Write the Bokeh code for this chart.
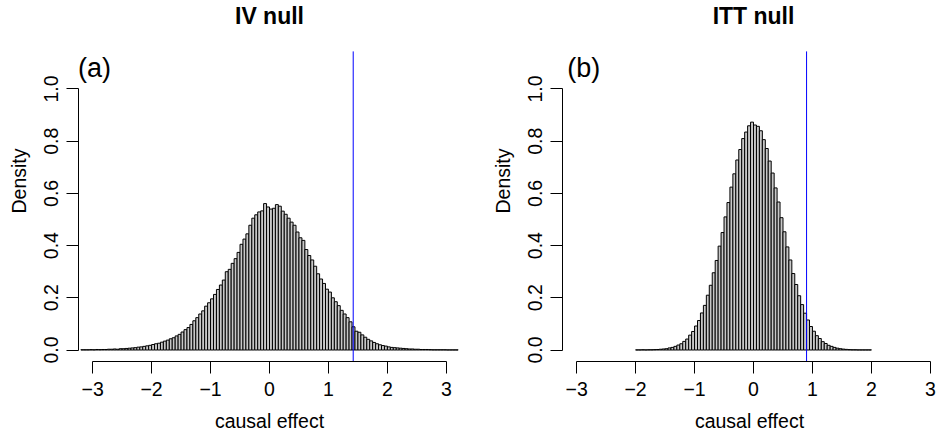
from bokeh.plotting import figure
from bokeh.layouts import row
from bokeh.models import FixedTicker, PrintfTickFormatter, CustomJSTickFormatter
from bokeh.core.properties import value
from bokeh.embed import file_html
from bokeh.resources import INLINE

FONT = "Liberation Sans"

bin_width = 0.05

# IV null histogram (density per 0.05-wide bin, first bin starts at -3.2)
iv_start = -3.2
iv_density = [
    0.001, 0.001, 0.001, 0.0015, 0.001, 0.002, 0.0015, 0.002, 0.002, 0.003,
    0.003, 0.004, 0.003, 0.005, 0.005, 0.006, 0.007, 0.008, 0.009, 0.011,
    0.012, 0.014, 0.016, 0.018, 0.021, 0.024, 0.026, 0.030, 0.034, 0.038,
    0.043, 0.047, 0.054, 0.060, 0.069, 0.078, 0.086, 0.098, 0.112, 0.124,
    0.138, 0.150, 0.168, 0.181, 0.196, 0.213, 0.232, 0.249, 0.268, 0.300,
    0.309, 0.332, 0.350, 0.374, 0.405, 0.425, 0.445, 0.478, 0.505, 0.518,
    0.529, 0.533, 0.561, 0.548,
    0.540, 0.543, 0.557, 0.551, 0.532, 0.520, 0.505, 0.490, 0.478, 0.452,
    0.430, 0.420, 0.385, 0.362, 0.345, 0.321, 0.292, 0.272, 0.255, 0.233,
    0.222, 0.200, 0.185, 0.170, 0.152, 0.138, 0.124, 0.108, 0.089, 0.072,
    0.068, 0.058, 0.049, 0.041, 0.035, 0.029, 0.024, 0.020, 0.017, 0.015,
    0.012, 0.010, 0.009, 0.008, 0.007, 0.006, 0.005, 0.004, 0.004, 0.003,
    0.003, 0.002, 0.002, 0.002, 0.0015, 0.001, 0.001, 0.001, 0.001, 0.001,
    0.0005, 0.0005, 0.0005, 0.0005,
]

# ITT null histogram (first bin starts at -2.0)
itt_start = -2.0
itt_density = [
    0.0005, 0.0005, 0.001, 0.0005, 0.001, 0.001, 0.0015, 0.002, 0.003, 0.004,
    0.005, 0.008, 0.010, 0.014, 0.019, 0.024, 0.033, 0.042, 0.057, 0.071,
    0.092, 0.113, 0.142, 0.171, 0.210, 0.248, 0.296, 0.343, 0.398, 0.450,
    0.510, 0.565, 0.624, 0.675, 0.728, 0.768, 0.810, 0.835, 0.859, 0.873,
    0.862, 0.857, 0.840, 0.806, 0.772, 0.724, 0.678, 0.621, 0.567, 0.507,
    0.453, 0.395, 0.345, 0.293, 0.251, 0.208, 0.174, 0.141, 0.115, 0.090,
    0.072, 0.055, 0.044, 0.032, 0.025, 0.018, 0.014, 0.010, 0.007, 0.005,
    0.0035, 0.0025, 0.0015, 0.001, 0.001, 0.0005, 0.0005, 0.0005, 0.0005, 0.0005,
]

iv_observed = 1.42
itt_observed = 0.90

titles = ["IV null", "ITT null"]
panel_tags = ["(a)", "(b)"]
x_ticks = [-3, -2, -1, 0, 1, 2, 3]
y_ticks = [0.0, 0.2, 0.4, 0.6, 0.8, 1.0]
x_label = "causal effect"
y_label = "Density"

# plot-region limits (R usr for ylim = c(0, 1.1))
region_bottom = -0.044
region_top = 1.144
canvas_top = 1.339
title_y = 1.281
tag_y = 1.081


def make_panel(density, start, observed, title, tag, tag_x, width, bl, br, x_end):
    left = [start + bin_width * i for i in range(len(density))]
    right = [v + bin_width for v in left]
    p = figure(width=width, height=434, x_range=(-3.24, x_end),
               y_range=(region_bottom, canvas_top),
               output_backend="svg", toolbar_location=None,
               min_border_left=bl, min_border_right=br, min_border_top=0, min_border_bottom=72)
    p.quad(left=left, right=right, bottom=0, top=density,
           fill_color="#C8C8C8", line_color="black", line_width=1)
    p.segment(x0=[observed], y0=[region_bottom], x1=[observed], y1=[region_top],
              line_color="#0000FF", line_width=1)

    p.text(x=[0], y=[title_y], text=[title], text_font=value(FONT), text_font_size="23px",
           text_font_style="bold", text_color="black", text_align="center",
           text_baseline="middle")
    p.text(x=[tag_x], y=[tag_y], text=[tag], text_font=value(FONT), text_font_size="27px",
           text_color="black", text_align="center", text_baseline="middle")

    p.grid.visible = False
    p.outline_line_color = None
    p.background_fill_color = "white"
    p.border_fill_color = "white"

    for ax in (p.xaxis[0], p.yaxis[0]):
        ax.major_tick_out = 12
        ax.major_tick_in = 0
        ax.minor_tick_line_color = None
        ax.axis_line_color = "black"
        ax.major_tick_line_color = "black"
        ax.major_label_text_font = FONT
        ax.major_label_text_font_size = "19.5px"
        ax.major_label_text_color = "black"
        ax.axis_label_text_font = FONT
        ax.axis_label_text_font_size = "19.5px"
        ax.axis_label_text_font_style = "normal"
        ax.axis_label_text_color = "black"
        ax.major_label_standoff = 8

    p.xaxis.ticker = FixedTicker(ticks=x_ticks)
    p.xaxis.bounds = (-3, 3)
    p.xaxis.formatter = CustomJSTickFormatter(
        code="return (tick < 0 ? '\\u2212' : '') + Math.abs(tick).toFixed(0);")
    p.xaxis.axis_label = x_label
    p.xaxis.axis_label_standoff = 11

    p.yaxis.ticker = FixedTicker(ticks=y_ticks)
    p.yaxis.bounds = (0, 1)
    p.yaxis.formatter = PrintfTickFormatter(format="%.1f")
    p.yaxis.major_label_orientation = "vertical"
    p.yaxis.axis_label = y_label
    p.yaxis.axis_label_standoff = 12
    return p


pa = make_panel(iv_density, iv_start, iv_observed, titles[0], panel_tags[0], -2.97,
                468, 78, 8, 3.24)
pb = make_panel(itt_density, itt_start, itt_observed, titles[1], panel_tags[1], -2.88,
                468, 94, 0, 3.104)

layout = row(pa, pb)
open("out.html", "w").write(file_html(layout, INLINE))
